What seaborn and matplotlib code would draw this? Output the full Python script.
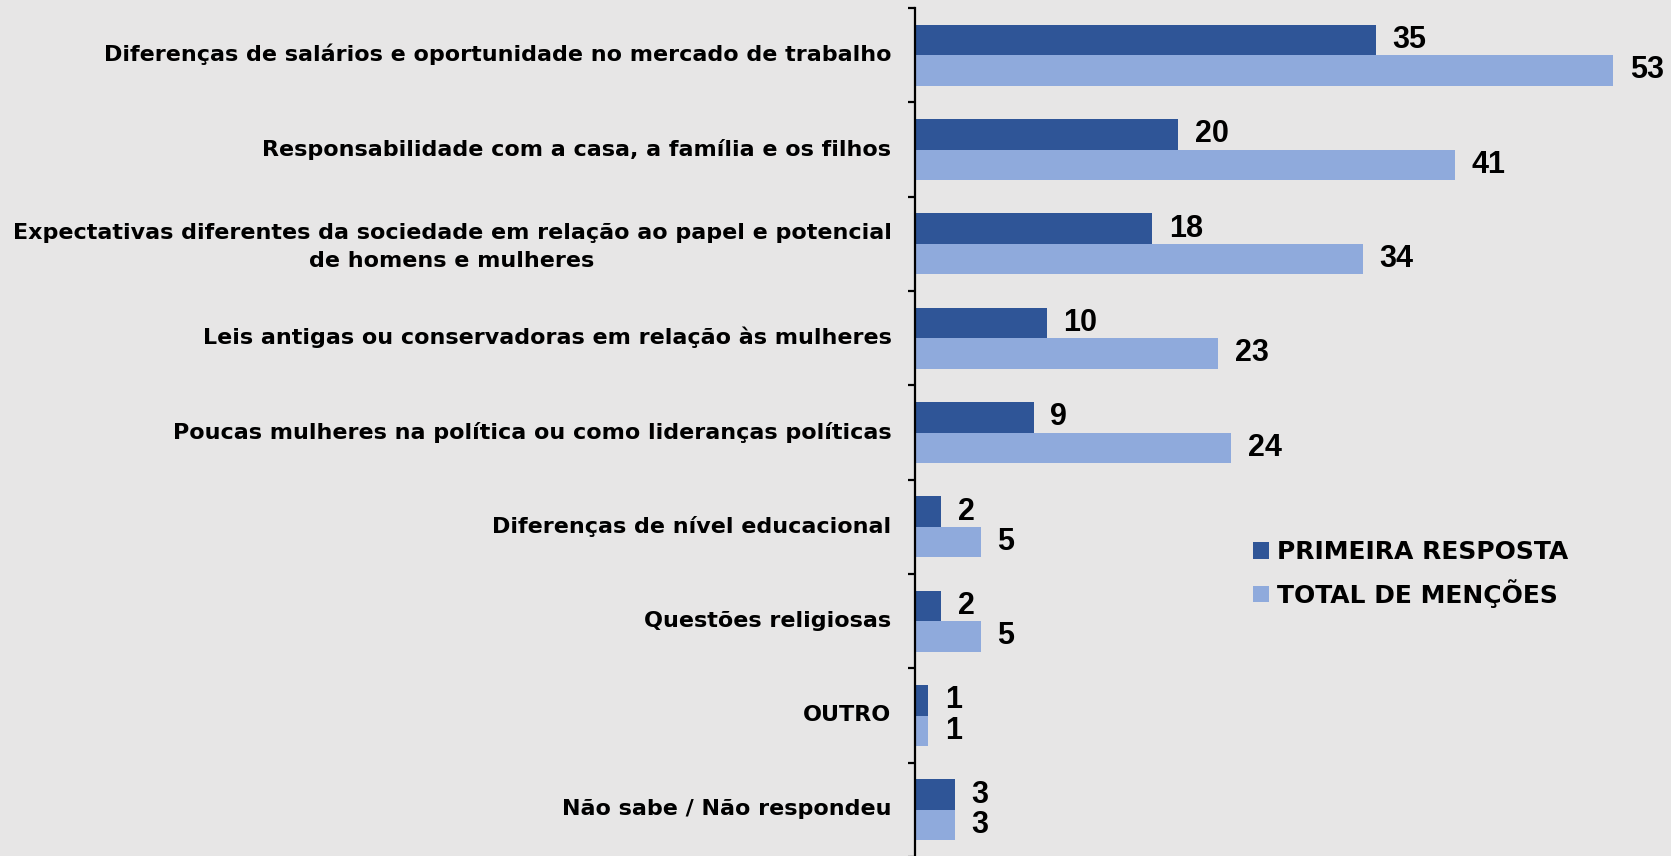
import matplotlib
matplotlib.use("Agg")
import matplotlib.pyplot as plt
import matplotlib.transforms as mtransforms
import seaborn as sns
import pandas as pd
import numpy as np
from matplotlib.patches import Patch

categories = [
    "Diferenças de salários e oportunidade no mercado de trabalho",
    "Responsabilidade com a casa, a família e os filhos",
    "Expectativas diferentes da sociedade em relação ao papel e potencial\nde homens e mulheres",
    "Leis antigas ou conservadoras em relação às mulheres",
    "Poucas mulheres na política ou como lideranças políticas",
    "Diferenças de nível educacional",
    "Questões religiosas",
    "OUTRO",
    "Não sabe / Não respondeu",
]
primeira = [35, 20, 18, 10, 9, 2, 2, 1, 3]
total = [53, 41, 34, 23, 24, 5, 5, 1, 3]
series_names = ["PRIMEIRA RESPOSTA", "TOTAL DE MENÇÕES"]
colors = ["#2F5597", "#8FAADC"]
bg = "#E7E6E6"

df = pd.DataFrame({
    "cat": categories * 2,
    "serie": [series_names[0]] * len(categories) + [series_names[1]] * len(categories),
    "val": primeira + total,
})

sns.set_theme(style="white")
plt.rcParams["font.family"] = ["DejaVu Sans"]
plt.rcParams["text.color"] = "black"

W, H, DPI = 1671, 856, 100
fig = plt.figure(figsize=(W / DPI, H / DPI), dpi=DPI, facecolor=bg)
ax_left = 915 / W
ax_top = 1 - 8 / H
ax_bottom = 1 - 857 / H
ax = fig.add_axes([ax_left, ax_bottom, 1 - ax_left, ax_top - ax_bottom])
ax.set_facecolor(bg)

sns.barplot(data=df, y="cat", x="val", hue="serie", order=categories,
            hue_order=series_names, palette=colors, orient="h", width=0.65,
            saturation=1, ax=ax, legend=False, edgecolor="none")

px_per_unit = (1613 - 915) / 53.0
ax.set_xlim(0, (W - 915) / px_per_unit)
n = len(categories)
ax.set_ylim(n - 0.5, -0.5)

for cont in ax.containers:
    ax.bar_label(cont, padding=12, fontsize=22, fontweight="bold",
                 family="Liberation Sans", color="black")

# ticks: major at boundaries (no labels), minor at centers (labels)
ax.set_yticks(np.arange(-0.5, n, 1.0))
ax.set_yticklabels([])
ax.set_yticks(np.arange(n), minor=True)
ax.set_yticklabels(categories, minor=True, fontsize=16, fontweight="bold",
                   ha="right", multialignment="center", color="black",
                   linespacing=1.45)
ax.tick_params(axis="y", which="major", length=5, width=1.6, color="black",
               direction="out", left=True)
ax.tick_params(axis="y", which="minor", length=0, pad=17)
offset = mtransforms.ScaledTranslation(0, 2.5 / DPI, fig.dpi_scale_trans)
for lbl in ax.get_yticklabels(minor=True):
    lbl.set_transform(lbl.get_transform() + offset)
ax.set_xticks([])
ax.set_xlabel("")
ax.set_ylabel("")

for s in ["top", "right", "bottom"]:
    ax.spines[s].set_visible(False)
ax.spines["left"].set_linewidth(1.6)
ax.spines["left"].set_color("black")

handles = [Patch(facecolor=c, edgecolor="none") for c in colors]
leg = fig.legend(handles, series_names, loc="upper left",
                 bbox_to_anchor=(1243 / W, 1 - 530 / H), frameon=False,
                 prop={"weight": "bold", "size": 18}, handlelength=0.65,
                 handleheight=0.65, handletextpad=0.3, labelspacing=0.6,
                 borderaxespad=0)
for t in leg.get_texts():
    t.set_color("black")

fig.savefig("out.png", dpi=DPI, facecolor=bg)
